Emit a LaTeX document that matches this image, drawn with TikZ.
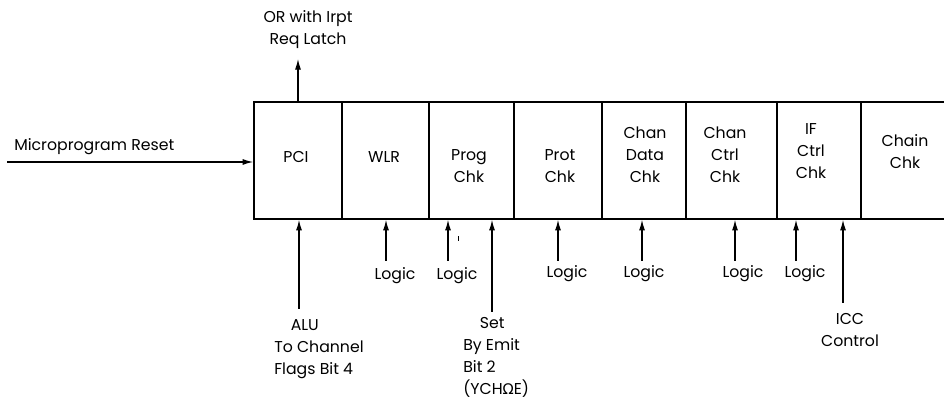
\documentclass[tikz,border=0pt]{standalone}
\usepackage{fontspec}
\setmainfont{Poppins}
\newfontfamily\grk{DejaVu Sans}
\usetikzlibrary{arrows.meta}
\begin{document}
\begin{tikzpicture}[x=0.75pt,y=-0.75pt,
  cell/.style={draw,line width=1.2pt,minimum width={#1*0.75pt},minimum height={117*0.75pt},inner sep=0pt},
  opencell/.style={minimum width={#1*0.75pt},minimum height={117*0.75pt},inner sep=0pt},
  txt/.style={font=\fontsize{11.8}{16.5}\selectfont,align=center,inner sep=0pt},
  txtl/.style={font=\fontsize{11.8}{16.5}\selectfont,align=left,inner sep=0pt},
  arr/.style={line width=0.85pt,-{Latex[length=8pt,width=4.5pt]}}]
\useasboundingbox (0,0) rectangle (944,398);
% register cells
\node[cell=88] (pci) at (298,160.5) {};
\node[cell=87] (wlr) at (385.5,160.5) {};
\node[cell=85] (prog) at (471.5,160.5) {};
\node[cell=88] (prot) at (558,160.5) {};
\node[cell=84] (cdat) at (644,160.5) {};
\node[cell=91] (cctl) at (731.5,160.5) {};
\node[cell=84] (ifc) at (819,160.5) {};
\node[opencell=83] (chain) at (902.5,160.5) {};
\draw[line width=1.2pt] (chain.north west) -- (chain.north east);
\draw[line width=1.2pt] (chain.south west) -- (chain.south east);
% cell texts
\node[txt] (tpci) at (296,157) {PCI};
\node[txt] (twlr) at (384,157) {WLR};
\node[txt] (tprog) at (469,166) {Prog\\Chk};
\node[txt] (tprot) at (560,166) {Prot\\Chk};
\node[txt] (tcdat) at (645,155) {Chan\\Data\\Chk};
\node[txt] (tcctl) at (725,155) {Chan\\Ctrl\\Chk};
\node[txt] (tifc) at (811,151) {IF\\Ctrl\\Chk};
\node[txt] (tchain) at (905,152) {Chain\\Chk};
% microprogram reset
\node[txtl,anchor=west] (mreset) at (14,147) {Microprogram Reset};
\coordinate (mstart) at (7,162);
\draw[arr] (mstart) -- (mstart -| pci.west);
% OR with Irpt
\node[txt] (orl) at (308,30) {OR with Irpt\\Req Latch};
\coordinate (orend) at (298,59);
\draw[arr] (orend |- pci.north) -- (orend);
% bottom inputs
\coordinate (alus) at (299,309);
\draw[arr] (alus) -- (alus |- pci.south);
\node[txtl,anchor=north west] (alul) at (274,319) {\hspace*{1.05em}ALU\\To Channel\\Flags Bit 4};
\coordinate (l1) at (386,261);
\draw[arr] (l1) -- (l1 |- wlr.south);
\node[txt] (tl1) at (395,276) {Logic};
\coordinate (l2) at (448,261);
\draw[arr] (l2) -- (l2 |- prog.south);
\node[txt] (tl2) at (457,276) {Logic};
\draw[line width=0.5pt] (458,236.5) -- (458,241.5);
\coordinate (sets) at (492,312);
\draw[arr] (sets) -- (sets |- prog.south);
\node[txtl,anchor=north west] (setl) at (463,317) {\hspace*{1.05em}Set\\By Emit\\Bit 2\\(YCH{\grk\fontsize{11}{16.5}\selectfont Ω}E)};
\coordinate (l3) at (558,261);
\draw[arr] (l3) -- (l3 |- prot.south);
\node[txt] (tl3) at (567,274) {Logic};
\coordinate (l4) at (642,261);
\draw[arr] (l4) -- (l4 |- cdat.south);
\node[txt] (tl4) at (644,274) {Logic};
\coordinate (l5) at (735,261);
\draw[arr] (l5) -- (l5 |- cctl.south);
\node[txt] (tl5) at (743,274) {Logic};
\coordinate (l6) at (796,261);
\draw[arr] (l6) -- (l6 |- ifc.south);
\node[txt] (tl6) at (805,274) {Logic};
\coordinate (iccs) at (843,303);
\draw[arr] (iccs) -- (iccs |- ifc.south);
\node[txt] (iccl) at (850,330) {ICC\\Control};
\end{tikzpicture}
\end{document}
